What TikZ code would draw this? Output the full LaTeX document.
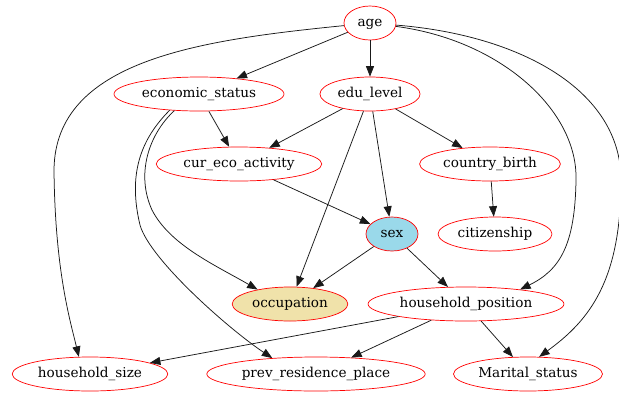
\documentclass[tikz,border=0pt]{standalone}
\usepackage{fontspec}
\setmainfont{DejaVu Serif}
\usetikzlibrary{shapes.geometric,arrows.meta}
\definecolor{sexfill}{RGB}{154,217,234}
\definecolor{occfill}{RGB}{240,226,170}

\begin{document}
\begin{tikzpicture}[x=1pt,y=-1pt,
  var/.style={ellipse,draw=red,line width=0.7pt,minimum width=52pt,minimum height=34pt,
    inner xsep=3pt,inner ysep=1pt,text height=10pt,text depth=3pt,
    font=\fontsize{13.6}{16}\selectfont},
  edge/.style={draw=black!90,line width=0.75pt,-{Triangle[length=10.5pt,width=8pt]}}]
  \useasboundingbox (0,0) rectangle (619,392);
  %
  \node[var] (age) at (370,23) {age};
  \node[var] (ecostat) at (199,94) {economic\_status};
  \node[var] (edu) at (370,94) {edu\_level};
  \node[var] (curact) at (239,164) {cur\_eco\_activity};
  \node[var] (birth) at (490,164) {country\_birth};
  \node[var,fill=sexfill] (sex) at (392,234) {sex};
  \node[var] (citizen) at (495,234) {citizenship};
  \node[var,fill=occfill] (occup) at (290,304) {occupation};
  \node[var] (hhpos) at (466,304) {household\_position};
  \node[var] (hhsize) at (90,374) {household\_size};
  \node[var] (prevres) at (316,374) {prev\_residence\_place};
  \node[var] (marital) at (528,374) {Marital\_status};
  %
  \foreach \a/\b in {age/ecostat,age/edu,ecostat/curact,edu/curact,edu/birth,edu/sex,
      edu/occup,curact/sex,birth/citizen,sex/occup,sex/hhpos,
      hhpos/hhsize,hhpos/prevres,hhpos/marital} {
    \draw[edge] (\a) -- (\b);
  }
  %
  \draw[edge] (age) .. controls (200,40) and (55,60) .. (54,170)
    .. controls (55,270) and (70,320) .. (hhsize.123);
  \draw[edge] (age) .. controls (500,40) and (578,110) .. (576,180)
    .. controls (575,245) and (560,270) .. (hhpos.15);
  \draw[edge] (age) .. controls (520,35) and (621,90) .. (621,180)
    .. controls (621,280) and (590,320) .. (marital.57);
  \draw[edge] (ecostat.209) .. controls (140,140) and (128,175) .. (140,225)
    .. controls (150,260) and (230,330) .. (prevres.160);
  \draw[edge] (ecostat.214) .. controls (148,135) and (136,175) .. (152,210)
    .. controls (170,245) and (215,265) .. (occup.156);
\end{tikzpicture}
\end{document}
